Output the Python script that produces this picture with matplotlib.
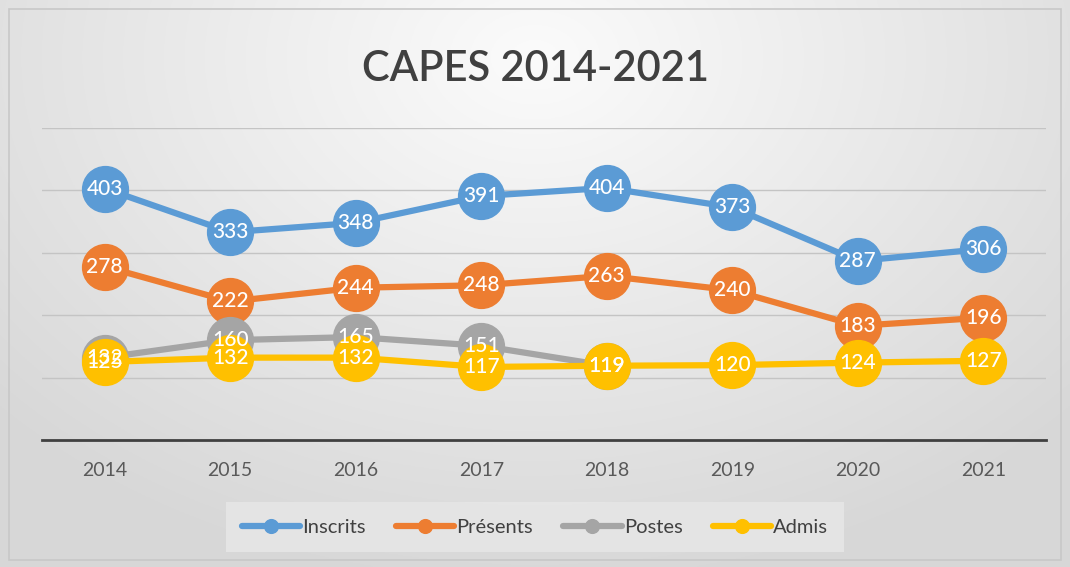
import matplotlib.pyplot as plt
import numpy as np

years = ["2014", "2015", "2016", "2017", "2018", "2019", "2020", "2021"]
inscrits = [403, 333, 348, 391, 404, 373, 287, 306]
presents = [278, 222, 244, 248, 263, 240, 183, 196]
postes = [132, 160, 165, 151, 119, np.nan, np.nan, np.nan]
admis = [125, 132, 132, 117, 119, 120, 124, 127]

series = [
    ("Inscrits", inscrits, "#5B9BD5"),
    ("Présents", presents, "#ED7D31"),
    ("Postes", postes, "#A5A5A5"),
    ("Admis", admis, "#FFC000"),
]

plt.rcParams["font.family"] = ["Lato", "DejaVu Sans"]

fig = plt.figure(figsize=(10.7, 5.67), dpi=100)

# radial gradient background, light at top centre
bg = fig.add_axes([0, 0, 1, 1], zorder=0)
yy, xx = np.mgrid[0:1:300j, 0:1:600j]
r = np.sqrt(((xx - 0.5) * 1.1) ** 2 + ((yy - 0.1) * 0.8) ** 2)
shade = 0.985 - 0.14 * np.clip(r / 0.75, 0, 1)
bg.imshow(np.dstack([shade] * 3), extent=[0, 1, 0, 1], origin="upper",
          aspect="auto")
bg.add_patch(plt.Rectangle((0.008, 0.012), 0.984, 0.973, fill=False,
                           edgecolor="#c8c8c8", lw=1.2))
bg.set_xlim(0, 1)
bg.set_ylim(0, 1)
bg.axis("off")

ax = fig.add_axes([42 / 1070, 1 - 440 / 567, (1046 - 42) / 1070,
                   (440 - 128) / 567], zorder=1)
ax.patch.set_alpha(0)
x = np.arange(len(years))

for name, vals, color in series:
    ax.plot(x, vals, color=color, lw=4.5, marker="o", markersize=33,
            solid_capstyle="round", label=name, zorder=3)
    for xi, v in zip(x, vals):
        if np.isnan(v):
            continue
        ax.text(xi, v, f"{int(v)}", ha="center", va="center", color="white",
                fontsize=15, fontweight="medium", zorder=4)

ax.set_xlim(-0.5, len(years) - 0.5)
ax.set_ylim(0, 500)
ax.set_yticks([100, 200, 300, 400, 500])
ax.yaxis.grid(True, color="#c4c4c4", lw=1)
ax.set_axisbelow(True)
ax.tick_params(axis="y", left=False, labelleft=False)
ax.set_xticks(x)
ax.set_xticklabels(years, color="#595959", fontsize=14)
ax.tick_params(axis="x", length=0, pad=16)
for side in ("top", "right", "left"):
    ax.spines[side].set_visible(False)
ax.spines["bottom"].set_color("#404040")
ax.spines["bottom"].set_linewidth(2)

fig.text(0.5, 0.878, "CAPES 2014-2021", ha="center", va="center",
         fontsize=30, fontweight="semibold", color="#404040")

handles, labels = ax.get_legend_handles_labels()
leg = fig.legend(handles, labels, loc="center", ncol=4,
                 bbox_to_anchor=(0.5, 1 - 527 / 567), frameon=True,
                 fontsize=14.5, handlelength=2.9, columnspacing=1.5,
                 handletextpad=0.1, markerscale=0.3, borderpad=0.8)
leg.get_frame().set_facecolor("#e6e6e6")
leg.get_frame().set_edgecolor("none")
leg.get_frame().set_alpha(0.9)
leg.get_frame().set_boxstyle("square", pad=0)
for t in leg.get_texts():
    t.set_color("#404040")

fig.savefig("out.png", dpi=100)
